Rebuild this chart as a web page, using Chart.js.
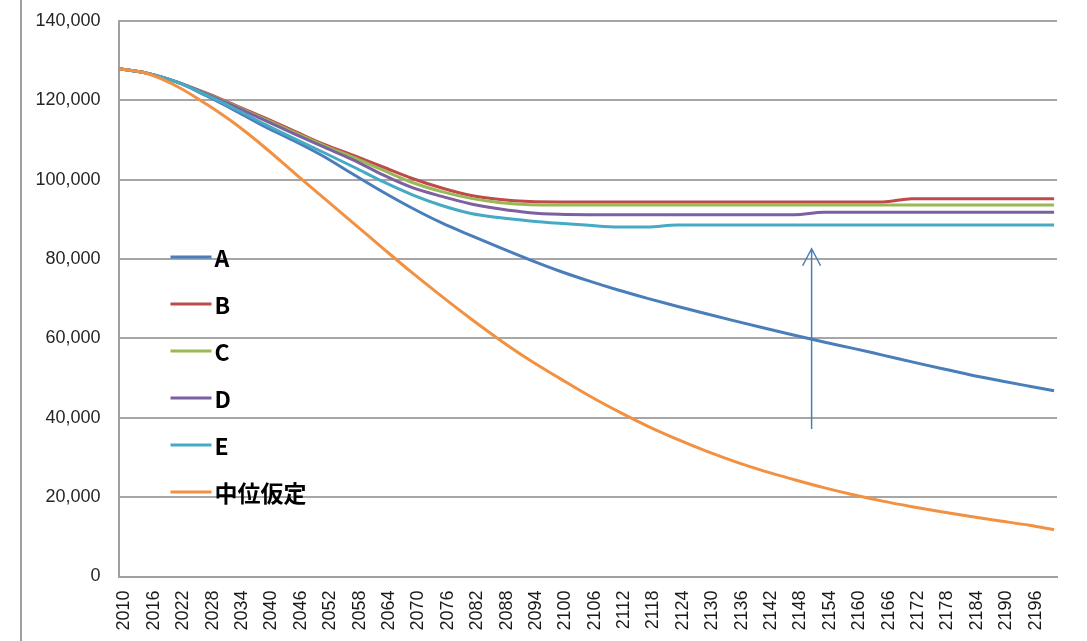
<!DOCTYPE html>
<html lang="ja">
  <head>
    <meta charset="UTF-8" />
    <meta name="viewport" content="width=device-width, initial-scale=1.0" />
    <title>人口推計</title>
    <script src="https://cdn.jsdelivr.net/npm/chart.js@4.4.0/dist/chart.umd.min.js"></script>
    <style>
      body { margin: 0; background: #fff; }
      #wrap { position: relative; width: 1087px; height: 641px; }
    </style>
  </head>
  <body>
    <div id="wrap"><canvas id="chart"></canvas></div>
    <script>
      const years = [2010, 2016, 2022, 2028, 2034, 2040, 2046, 2052, 2058, 2064, 2070,
        2076, 2082, 2088, 2094, 2100, 2106, 2112, 2118, 2124, 2130, 2136, 2142, 2148,
        2154, 2160, 2166, 2172, 2178, 2184, 2190, 2196, 2201]

      const seriesA = [128000, 126800, 124600, 121100, 117300, 113300, 109700, 105800, 101300,
        96900, 92800, 89100, 85900, 82800, 79800, 77000, 74500, 72200, 70100, 68100, 66200,
        64350, 62550, 60800, 59100, 57500, 55800, 54100, 52400, 50800, 49350, 47950, 46800]
      const seriesB = [128000, 126800, 124600, 121800, 118700, 115500, 112200, 108900, 106100,
        103200, 100300, 97900, 96000, 95000, 94500, 94400, 94400, 94400, 94400, 94400, 94400,
        94400, 94400, 94400, 94400, 94400, 94400, 95200, 95200, 95200, 95200, 95200, 95200]
      const seriesC = [128000, 126800, 124600, 121700, 118500, 115200, 111900, 108600, 105600,
        102400, 99300, 97000, 95300, 94200, 93700, 93650, 93650, 93650, 93650, 93650, 93650,
        93650, 93650, 93650, 93650, 93650, 93650, 93650, 93650, 93650, 93650, 93650, 93650]
      const seriesD = [128000, 126800, 124600, 121600, 118300, 114900, 111500, 108200, 104950,
        101200, 98000, 95800, 93900, 92600, 91700, 91300, 91200, 91200, 91200, 91200, 91200,
        91200, 91200, 91200, 91800, 91800, 91800, 91800, 91800, 91800, 91800, 91800, 91800]
      const seriesE = [128000, 126800, 124600, 121300, 117700, 113900, 110300, 106800, 103200,
        99500, 96200, 93500, 91500, 90400, 89600, 89000, 88500, 88100, 88100, 88600, 88600,
        88600, 88600, 88600, 88600, 88600, 88600, 88600, 88600, 88600, 88600, 88600, 88600]
      const seriesMid = [128000, 126700, 123500, 119000, 113900, 108000, 101600, 95300, 89000,
        82700, 76500, 70600, 64900, 59500, 54500, 50000, 45600, 41600, 37900, 34600, 31600,
        28900, 26500, 24400, 22400, 20600, 19000, 17600, 16300, 15100, 14000, 12900, 11800]

      const seriesNames = ['A', 'B', 'C', 'D', 'E', '中位仮定']
      const seriesColors = ['#4a7ebb', '#be4b48', '#98b954', '#7d60a0', '#46aac5', '#f29142']
      const tickYears = [2010, 2016, 2022, 2028, 2034, 2040, 2046, 2052, 2058, 2064, 2070,
        2076, 2082, 2088, 2094, 2100, 2106, 2112, 2118, 2124, 2130, 2136, 2142, 2148, 2154,
        2160, 2166, 2172, 2178, 2184, 2190, 2196]

      // the upward arrow drawn in the picture (year, from value, to value)
      const arrowYear = 2151.5
      const arrowFrom = 37200
      const arrowTo = 82600

      const allSeries = [seriesA, seriesB, seriesC, seriesD, seriesE, seriesMid]

      const frameLine = {
        id: 'frameLine',
        beforeDraw(chart) {
          const ctx = chart.ctx
          ctx.save()
          ctx.strokeStyle = '#a0a0a0'
          ctx.lineWidth = 2
          ctx.beginPath()
          ctx.moveTo(21, 0)
          ctx.lineTo(21, chart.height)
          ctx.stroke()
          ctx.restore()
        },
      }

      const arrowPlugin = {
        id: 'arrow',
        afterDatasetsDraw(chart) {
          const ctx = chart.ctx
          const x = chart.scales.x.getPixelForValue(arrowYear)
          const y0 = chart.scales.y.getPixelForValue(arrowFrom)
          const y1 = chart.scales.y.getPixelForValue(arrowTo)
          ctx.save()
          ctx.strokeStyle = '#4a7ebb'
          ctx.lineWidth = 1.5
          ctx.beginPath()
          ctx.moveTo(x, y0)
          ctx.lineTo(x, y1)
          ctx.moveTo(x - 9, y1 + 17)
          ctx.lineTo(x, y1)
          ctx.lineTo(x + 9, y1 + 17)
          ctx.stroke()
          ctx.restore()
        },
      }

      const insideLegend = {
        id: 'insideLegend',
        afterDatasetsDraw(chart) {
          const ctx = chart.ctx
          const area = chart.chartArea
          const left = area.left + 52
          let y = area.top + 236
          ctx.save()
          ctx.font = 'bold 23px "Noto Sans CJK JP"'
          ctx.textBaseline = 'middle'
          ctx.fillStyle = '#000'
          chart.data.datasets.forEach((ds) => {
            ctx.strokeStyle = ds.borderColor
            ctx.lineWidth = 3
            ctx.beginPath()
            ctx.moveTo(left, y)
            ctx.lineTo(left + 41, y)
            ctx.stroke()
            ctx.fillText(ds.label, left + 44, y + 1)
            y += 47
          })
          ctx.restore()
        },
      }

      const ctx = document.getElementById('chart').getContext('2d')
      const myChart = new Chart(ctx, {
        type: 'line',
        data: {
          datasets: allSeries.map((vals, i) => ({
            label: seriesNames[i],
            data: years.map((yr, j) => ({ x: yr, y: vals[j] })),
            borderColor: seriesColors[i],
            backgroundColor: seriesColors[i],
            borderWidth: 3,
            pointRadius: 0,
            cubicInterpolationMode: 'monotone',
            order: allSeries.length - i,
          })),
        },
        options: {
          responsive: true,
          maintainAspectRatio: false,
          animation: false,
          layout: { autoPadding: false, padding: { top: 21, right: 30, left: 0, bottom: 0 } },
          plugins: { legend: { display: false }, tooltip: { enabled: false } },
          scales: {
            x: {
              type: 'linear',
              min: 2010,
              max: 2201.6,
              grid: { display: false, drawTicks: false },
              border: { color: '#a0a0a0', width: 2 },
              afterBuildTicks: (scale) => {
                scale.ticks = tickYears.map((v) => ({ value: v }))
              },
              afterFit: (scale) => {
                scale.height = 64.5
                scale.paddingLeft = 0
                scale.paddingRight = 0
              },
              ticks: {
                autoSkip: false,
                minRotation: 90,
                maxRotation: 90,
                labelOffset: 6,
                padding: 14,
                color: '#1a1a1a',
                font: { family: '"Liberation Sans", Arial, sans-serif', size: 18 },
                callback: (v) => String(v),
              },
            },
            y: {
              min: 0,
              max: 140000,
              grid: { color: '#a6a6a6', lineWidth: 2, drawTicks: false },
              border: { color: '#a0a0a0', width: 2 },
              afterFit: (scale) => {
                scale.width = 118.5
                scale.paddingTop = 0
                scale.paddingBottom = 0
              },
              ticks: {
                stepSize: 20000,
                padding: 18,
                color: '#262626',
                font: { family: '"Liberation Sans", Arial, sans-serif', size: 18 },
                callback: (v) => v.toLocaleString('en-US'),
              },
            },
          },
        },
        plugins: [frameLine, arrowPlugin, insideLegend],
      })
    </script>
  </body>
</html>
